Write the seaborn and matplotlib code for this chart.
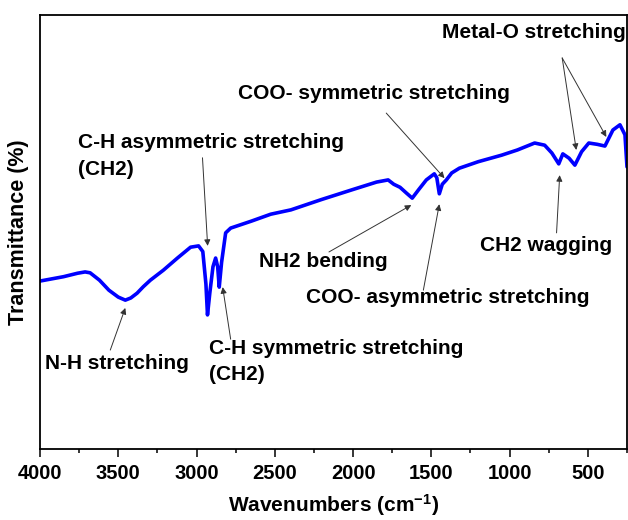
import matplotlib
matplotlib.use("Agg")
import matplotlib.pyplot as plt
import seaborn as sns
import pandas as pd

# FTIR spectrum (wavenumber in cm^-1, transmittance in arbitrary %)
wavenumber = [4000, 3850, 3760, 3712, 3680, 3620, 3560, 3500, 3455, 3420,
              3380, 3340, 3295, 3212, 3122, 3038, 2987, 2960, 2940, 2930,
              2915, 2895, 2878, 2865, 2855, 2840, 2814, 2782, 2650, 2526,
              2397, 2200, 2000, 1850, 1776, 1740, 1700, 1660, 1622, 1580,
              1532, 1481, 1465, 1449, 1430, 1404, 1370, 1321, 1200, 1051,
              950, 840, 776, 730, 686, 660, 620, 583, 540, 494,
              440, 391, 340, 295, 263, 250]
transmittance = [38.7, 39.7, 40.5, 40.8, 40.6, 38.9, 36.6, 35.0, 34.3, 34.8,
                 35.9, 37.4, 38.9, 41.2, 44.0, 46.5, 46.8, 45.5, 38.0, 30.9,
                 36.0, 42.0, 44.0, 42.0, 37.3, 43.0, 49.8, 50.9, 52.5, 54.1,
                 55.1, 57.5, 59.8, 61.5, 62.0, 61.0, 60.3, 59.0, 57.8, 59.8,
                 62.0, 63.4, 62.5, 58.8, 61.0, 62.0, 63.6, 64.7, 66.2, 67.7,
                 68.9, 70.5, 70.0, 68.2, 65.7, 68.0, 67.0, 65.4, 68.5, 70.5,
                 70.2, 69.8, 73.5, 74.7, 72.4, 65.0]

x_ticks = [4000, 3500, 3000, 2500, 2000, 1500, 1000, 500]
x_minor = [3750, 3250, 2750, 2250, 1750, 1250, 750, 250]

# Band assignments: label, text anchor (wn, T), arrow tail and tips
band_labels = ["N-H stretching",
               "C-H asymmetric stretching\n(CH2)",
               "C-H symmetric stretching\n(CH2)",
               "NH2 bending",
               "COO- asymmetric stretching",
               "COO- symmetric stretching",
               "CH2 wagging",
               "Metal-O stretching"]
label_pos = [(3968, 19.6), (3756, 67.5), (2923, 20.2), (2603, 43.1),
             (2301, 35.0), (2737, 82.0), (1192, 47.0), (1430, 95.9)]
arrow_tail = [(3551, 22.8), (2962, 67.1), (2782, 25.3), (2154, 45.4),
              (1551, 36.6), (1788, 77.4), (700, 49.8), (664, 90.1)]
arrow_tips = [[(3455, 32.5)], [(2929, 46.8)], [(2833, 37.3)], [(1628, 56.2)],
              [(1449, 56.4)], [(1416, 62.4)], [(680, 63.1)],
              [(574, 68.9), (382, 71.9)]]

sns.set_theme(style="white")
plt.rcParams["font.family"] = ["Liberation Sans", "DejaVu Sans"]
plt.rcParams["font.weight"] = "bold"
plt.rcParams["text.color"] = "black"
plt.rcParams["axes.labelcolor"] = "black"
plt.rcParams["xtick.color"] = "black"
plt.rcParams["mathtext.fontset"] = "custom"
plt.rcParams["mathtext.rm"] = "Liberation Sans:bold"
plt.rcParams["mathtext.bf"] = "Liberation Sans:bold"
plt.rcParams["mathtext.default"] = "bf"

fig = plt.figure(figsize=(6.28, 5.2), dpi=100)
ax = fig.add_axes([0.0637, 0.1365, 0.9347, 0.8347])

df = pd.DataFrame({"wavenumber": wavenumber, "transmittance": transmittance})
sns.lineplot(data=df, x="wavenumber", y="transmittance", color="#0000FF",
             linewidth=2.6, ax=ax, sort=False)

ax.set_xlim(4000, 250)
ax.set_ylim(0, 100)
ax.set_xticks(x_ticks)
ax.set_xticklabels([str(t) for t in x_ticks], fontsize=14.5, fontweight="bold")
ax.set_xticks(x_minor, minor=True)
ax.tick_params(axis="x", which="major", direction="out", length=6, width=1.1,
               color="black", pad=5, bottom=True)
ax.tick_params(axis="x", which="minor", direction="out", length=3, width=1.1,
               color="black", bottom=True)
ax.set_yticks([])

for sp in ax.spines.values():
    sp.set_color("black")
    sp.set_linewidth(1.3)
    sp.set_visible(True)

ax.set_xlabel(r"Wavenumbers (cm$^{-1}$)", fontsize=15, fontweight="bold",
              labelpad=6)
ax.set_ylabel("Transmittance (%)", fontsize=15.5, fontweight="bold", labelpad=8)

for text, pos, tail, tips in zip(band_labels, label_pos, arrow_tail, arrow_tips):
    ax.text(pos[0], pos[1], text, fontsize=15, fontweight="bold", color="black",
            ha="left", va="center", linespacing=1.5, clip_on=False)
    for tip in tips:
        ax.annotate("", xy=tip, xytext=tail,
                    arrowprops=dict(arrowstyle="-|>", color="#333333", lw=0.7,
                                    mutation_scale=9, shrinkA=0, shrinkB=0))

fig.savefig("out.png", dpi=100, facecolor="white")
